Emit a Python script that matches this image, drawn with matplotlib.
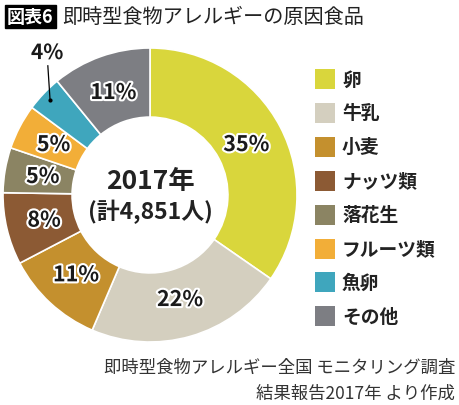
import numpy as np
import matplotlib.pyplot as plt
import matplotlib.patheffects as pe

plt.rcParams['font.family'] = ['Noto Sans CJK JP', 'DejaVu Sans']

categories = ["卵", "牛乳", "小麦", "ナッツ類", "落花生", "フルーツ類", "魚卵", "その他"]
shares = [35, 22, 11, 8, 5, 5, 4, 11]
colors = ["#d9d63c", "#d4cfbf", "#c4902e", "#8c5a34", "#8b8463", "#f2ae38", "#3fa6bd", "#7d7e83"]

title_tag = "図表6"
title = "即時型食物アレルギーの原因食品"
center_text = ["2017年", "(計4,851人)"]
source = ["即時型食物アレルギー全国 モニタリング調査", "結果報告2017年 より作成"]

W, H = 460, 406
fig = plt.figure(figsize=(W / 100, H / 100), dpi=100)

# donut
cx, cy, r = 150, 196, 147
ax = fig.add_axes([(cx - r) / W, (H - cy - r) / H, 2 * r / W, 2 * r / H])
wedges, _ = ax.pie(shares, colors=colors, startangle=90, counterclock=False, radius=1,
                   wedgeprops=dict(width=0.47, edgecolor="white", linewidth=1.2))
ax.set_xlim(-1, 1)
ax.set_ylim(-1, 1)
ax.axis("off")

stroke = [pe.withStroke(linewidth=3, foreground="white")]
for w, v in zip(wedges, shares):
    ang = np.deg2rad((w.theta1 + w.theta2) / 2)
    if v < 5:
        # small slice: label outside with a leader line
        x, y = 0.94 * np.cos(ang), 0.94 * np.sin(ang)
        ax.plot([x, x - 0.015], [y, y + 0.23], color="black", lw=0.9, clip_on=False)
        ax.plot([x], [y], "o", color="black", ms=2, clip_on=False)
        ax.text(x - 0.02, y + 0.32, f"{v}%", ha="center", va="center", fontsize=15,
                fontweight="bold", color="#1a1a1a", path_effects=stroke)
    else:
        rr = 0.74
        ax.text(rr * np.cos(ang), rr * np.sin(ang), f"{v}%", ha="center", va="center",
                fontsize=15.5, fontweight="bold", color="#1a1a1a", path_effects=stroke)

ax.text(0, 0.10, center_text[0], ha="center", va="center", fontsize=19, fontweight="bold", color="#222222")
ax.text(0, -0.11, center_text[1], ha="center", va="center", fontsize=16.5, fontweight="bold", color="#222222")

# title
fig.text(7 / W, 1 - 17.5 / H, title_tag, ha="left", va="center", fontsize=13, fontweight="bold", color="white",
         bbox=dict(boxstyle="square,pad=0.12", fc="black", ec="black"))
fig.text(62 / W, 1 - 17.5 / H, title, ha="left", va="center", fontsize=14.5, color="#222222")

# legend
for i, (c, col) in enumerate(zip(categories, colors)):
    y = 80 + i * 33.9
    fig.patches.append(plt.Rectangle((315 / W, 1 - (y + 10) / H), 20 / W, 20 / H,
                                     transform=fig.transFigure, fc=col, ec="none"))
    fig.text(342 / W, 1 - y / H, c, ha="left", va="center", fontsize=13.5, fontweight="bold", color="#222222")

# source
fig.text(455 / W, 1 - 368 / H, source[0], ha="right", va="center", fontsize=12.5, color="#333333")
fig.text(455 / W, 1 - 394 / H, source[1], ha="right", va="center", fontsize=12.5, color="#333333")

fig.savefig("out.png", dpi=100)
